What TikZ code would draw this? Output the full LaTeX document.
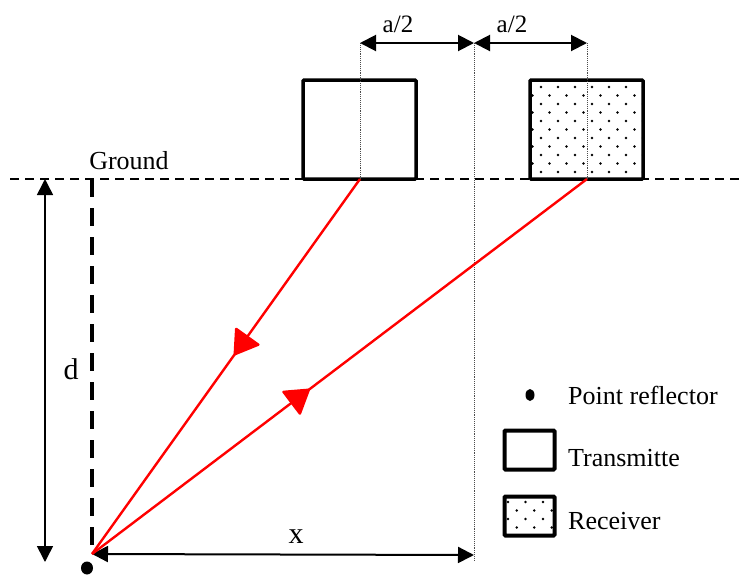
\documentclass[tikz,border=0pt]{standalone}
\usepackage{fontspec}
\setmainfont{Liberation Serif}
\usetikzlibrary{arrows.meta,decorations.markings}
\begin{document}
\begin{tikzpicture}[x=1pt,y=-1pt,
 box/.style={draw,line width=3.5pt,rounded corners=1pt,inner sep=0pt,minimum width=113pt,minimum height=99pt},
 legbox/.style={draw,line width=4pt,rounded corners=1pt,inner sep=0pt,minimum width=50pt,minimum height=39pt},
 guide/.style={densely dotted,line width=0.9pt,black!70},
 dimarrow/.style={line width=2pt,{Triangle[length=16pt,width=16pt]}-{Triangle[length=16pt,width=16pt]}},
 ray/.style={red,line width=2.4pt},
 raytip/.style={decoration={markings,mark=at position #1 with {\arrow{Triangle[length=25pt,width=31pt,round]}}},postaction={decorate}},
 lbl/.style={font=\fontsize{26}{28}\selectfont,inner sep=0pt},
 smalllbl/.style={font=\fontsize{25}{27}\selectfont,inner sep=0pt},
 biglbl/.style={font=\fontsize{30}{32}\selectfont,inner sep=0pt},
]
\useasboundingbox (0,0) rectangle (740,574);

% receiver dot fill
\begin{scope}
\clip (530,80) rectangle (643,179);
\foreach \r [evaluate=\r as \off using {mod(\r,2)*(-8.5)}] in {0,...,10}
  \foreach \c in {0,...,6}
    \fill (541+\c*17+\off, 87+\r*8.5) circle (1.4pt);
\end{scope}
\begin{scope}
\clip (503,495) rectangle (556,537);
\foreach \r [evaluate=\r as \off using {mod(\r,2)*8.7}] in {0,...,3}
  \foreach \c in {0,...,2}
    \fill (508+\c*17.5+\off, 502+\r*8.5) circle (1.4pt);
\end{scope}

% boxes
\node[box] (tx) at (359.5,129.5) {};
\node[box] (rx) at (586.5,129.5) {};

% ground
\coordinate (g1) at (10,179);
\coordinate (g2) at (740,179);
\draw[line width=2.5pt,dash pattern=on 9pt off 6pt] (g1) -- (g2);
\node[lbl] (ground) at (129,161) {Ground};

% key points
\coordinate (T) at (360,179);
\coordinate (R) at (587,179);
\coordinate (P) at (92,554);
\coordinate (X) at (474,555);
\coordinate (ga) at (360,43);
\coordinate (gb) at (474,43);
\coordinate (gc) at (587,43);
\coordinate (gbend) at (474,560);

% guides
\draw[guide] (ga) -- (T);
\draw[guide] (gb) -- (gbend);
\draw[guide] (gc) -- (R);

% a/2 dimensions
\draw[dimarrow] (ga) -- (gb);
\draw[dimarrow] (gb) -- (gc);
\node[smalllbl] (a1) at (398,24) {a/2};
\node[smalllbl] (a2) at (512,24) {a/2};

% vertical dashed
\coordinate (v1) at (92,179);
\draw[line width=4pt,dash pattern=on 18pt off 11pt] (v1) -- (P);

% depth dimension
\coordinate (d1) at (45,179);
\coordinate (d2) at (45,562);
\draw[dimarrow,line width=1.6pt] (d1) -- (d2);
\node[biglbl] (dl) at (71,369) {d};

% x dimension
\draw[dimarrow] (P) -- (X);
\node[biglbl] (xl) at (296,537) {x};

% rays
\draw[ray,raytip=0.47] (T) -- (P);
\draw[ray,raytip=0.44] (P) -- (R);

% reflector
\fill (87,568) ellipse (6pt and 6.5pt);
\node[inner sep=0pt] (refl) at (87,568) {};

% legend
\fill (530,395) ellipse (4.5pt and 6pt);
\node[inner sep=0pt] (ldot) at (530,395) {};
\node[lbl,anchor=west] (lt1) at (568,395) {Point reflector};
\node[legbox] (lbox1) at (529.5,450) {};
\node[lbl,anchor=west] (lt2) at (568,458) {Transmitte};
\node[legbox] (lbox2) at (529.5,516) {};
\node[lbl,anchor=west] (lt3) at (568,521) {Receiver};
\end{tikzpicture}
\end{document}
